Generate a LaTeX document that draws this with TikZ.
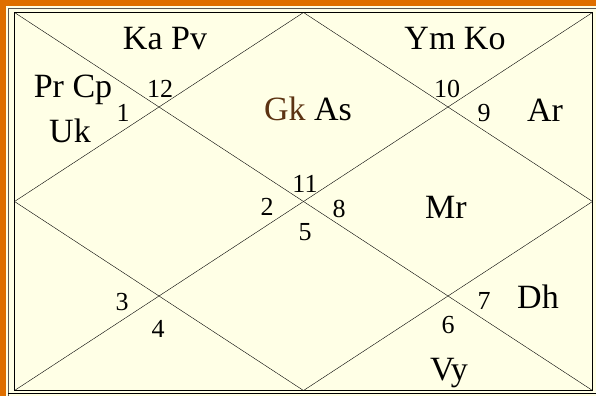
\documentclass[tikz,border=0pt]{standalone}
\usepackage{fontspec}
\setmainfont{Liberation Serif}
\definecolor{chartbg}{HTML}{FFFFE6}
\definecolor{bandorange}{HTML}{DF6F00}
\definecolor{gkbrown}{HTML}{5C3312}
\tikzset{
  planet/.style={anchor=base,inner sep=0pt,font=\fontsize{34}{34}\selectfont},
  house/.style={anchor=base,inner sep=0pt,font=\fontsize{26}{26}\selectfont}
}
\begin{document}
\begin{tikzpicture}[x=1pt,y=-1pt]
\useasboundingbox (0,0) rectangle (596,396);
\fill[chartbg] (0,0) rectangle (596,396);
\fill[bandorange] (0,0) rectangle (596,6);
\fill[bandorange] (0,0) rectangle (6,396);
\draw[black!65,line width=1.2pt] (8.5,396)--(8.5,8.5)--(596,8.5);
\draw[black,line width=1pt] (8,393.5)--(596,393.5);
% chart frame
\draw[black,solid] (14.5,12.5)--(592.5,12.5);
\draw[black,solid] (14.5,390.5)--(592.5,390.5);
\draw[black,solid] (14.5,12.5)--(14.5,390.5);
\draw[black,solid] (592.5,12.5)--(592.5,390.5);
% diagonals
\draw[black,solid] (14.5,12.5)--(592.5,390.5);
\draw[black,solid] (592.5,12.5)--(14.5,390.5);
% diamond
\draw[black,solid] (303.5,12.5)--(592.5,201.5);
\draw[black,solid] (592.5,201.5)--(303.5,390.5);
\draw[black,solid] (303.5,390.5)--(14.5,201.5);
\draw[black,solid] (14.5,201.5)--(303.5,12.5);
% house numbers
\node[house] (h1) at (123,121) {1};
\node[house] (h2) at (267,215) {2};
\node[house] (h3) at (122,310) {3};
\node[house] (h4) at (158,337) {4};
\node[house] (h5) at (305,240) {5};
\node[house] (h6) at (448,333) {6};
\node[house] (h7) at (484,309) {7};
\node[house] (h8) at (339,217) {8};
\node[house] (h9) at (484,121) {9};
\node[house] (h10) at (447,97) {10};
\node[house] (h11) at (305,192) {11};
\node[house] (h12) at (160,97) {12};
% planets
\node[planet] (kapv) at (165,49) {Ka Pv};
\node[planet] (ymko) at (455,49) {Ym Ko};
\node[planet] (prcp) at (73,97) {Pr Cp};
\node[planet] (uk) at (70,142) {Uk};
\node[planet] (gkas) at (308,120) {\textcolor{gkbrown}{Gk} As};
\node[planet] (ar) at (545,121) {Ar};
\node[planet] (mr) at (446,218) {Mr};
\node[planet] (dh) at (538,308) {Dh};
\node[planet] (vy) at (449,380) {Vy};
\end{tikzpicture}
\end{document}
